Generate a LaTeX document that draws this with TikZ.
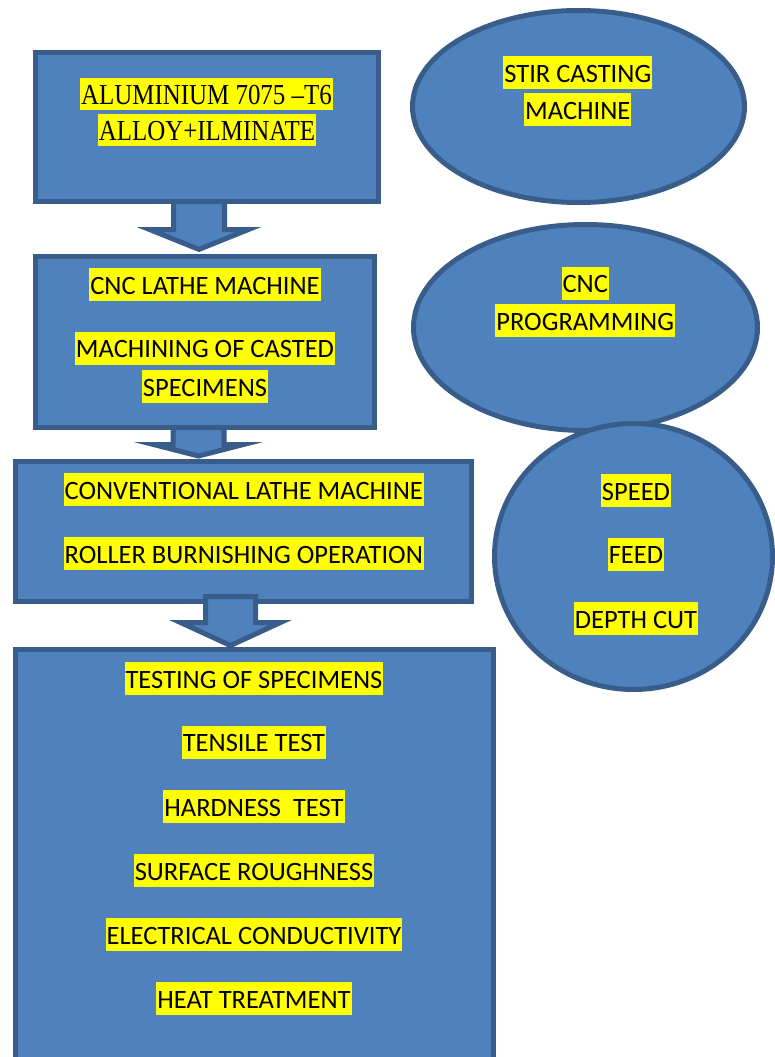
\documentclass[tikz,border=0pt]{standalone}
\usepackage{fontspec}
\usetikzlibrary{shapes.geometric}
\newfontfamily\carl{Carlito}
\newfontfamily\serifc[FakeStretch=0.86]{Liberation Serif}
\definecolor{boxfill}{HTML}{4F81BD}
\definecolor{boxline}{HTML}{385D8A}
\definecolor{hlyellow}{HTML}{FFFF00}
\newcommand\blockarrow[7]{% #1 x, #2 top, #3 wing y, #4 tip y, #5 shaft half, #6 head half, #7 name
  \coordinate (#7) at (#1,#2);
  \draw[barrow] (#7) ++(-#5,0) -- (#1-#5,#3) -- (#1-#6,#3) -- (#1,#4) -- (#1+#6,#3) -- (#1+#5,#3) -- (#1+#5,#2) -- cycle;}
\tikzset{
  flowbox/.style={draw=boxline, fill=boxfill, line width=5pt, rectangle, inner sep=0pt, outer sep=0pt},
  oval/.style={draw=boxline, fill=boxfill, line width=5pt, ellipse, inner sep=0pt, outer sep=0pt},
  barrow/.style={draw=boxline, fill=boxfill, line width=5pt, line join=miter, miter limit=20},
  hl/.style={fill=hlyellow, inner xsep=1pt, inner ysep=0pt, text height=26pt, text depth=7pt, anchor=base, font=\carl\fontsize{26.5}{32}\selectfont},
  hls/.style={hl, font=\serifc\fontsize{29}{32}\selectfont, text height=26pt, text depth=6pt}
}
\begin{document}
\begin{tikzpicture}[x=1pt,y=1pt]
\useasboundingbox (0,0) rectangle (775,-1057);
\clip (0,0) rectangle (775,-1057);
% boxes
\node[flowbox, minimum width=343pt, minimum height=149pt] (b1) at (207,-127) {};
\node[flowbox, minimum width=339pt, minimum height=171pt] (b2) at (205,-342) {};
\node[flowbox, minimum width=456pt, minimum height=140pt] (b3) at (243.5,-531.5) {};
\node[flowbox, minimum width=478pt, minimum height=450pt] (b4) at (254.5,-874.5) {};
% ovals
\node[oval, minimum width=332pt, minimum height=192pt] (e1) at (578.5,-106.5) {};
\node[oval, minimum width=344pt, minimum height=206pt] (e2) at (585.5,-327.5) {};
\node[oval, minimum width=278pt, minimum height=266pt] (e3) at (633.5,-556.5) {};
% block arrows
\blockarrow{199}{-201.5}{-229.5}{-249.4}{25.5}{49.5}{a1}
\blockarrow{198.5}{-427.5}{-444.5}{-456}{25.5}{45}{a2}
\blockarrow{230.5}{-596.5}{-622.5}{-645.5}{25}{50}{a3}
% texts box 1
\node[hls] (t11) at (206.5,-104) {ALUMINIUM 7075 –T6};
\node[hls] (t12) at (207,-140) {ALLOY+ILMINATE};
% box 2
\node[hl] (t21) at (205,-294) {CNC LATHE MACHINE};
\node[hl] (t22) at (205,-357.5) {MACHINING OF CASTED};
\node[hl] (t23) at (205,-396) {SPECIMENS};
% box 3
\node[hl] (t31) at (243.8,-499) {CONVENTIONAL LATHE MACHINE};
\node[hl] (t32) at (243.8,-563) {ROLLER BURNISHING OPERATION};
% box 4
\node[hl] (t41) at (254,-688) {TESTING OF SPECIMENS};
\node[hl] (t42) at (254,-751.5) {TENSILE TEST};
\node[hl] (t43) at (254,-816) {HARDNESS\ \ TEST};
\node[hl] (t44) at (254,-880) {SURFACE ROUGHNESS};
\node[hl] (t45) at (254,-944) {ELECTRICAL CONDUCTIVITY};
\node[hl] (t46) at (254,-1008) {HEAT TREATMENT};
% ovals text
\node[hl] (te11) at (577.8,-82) {STIR CASTING};
\node[hl] (te12) at (577.8,-119) {MACHINE};
\node[hl] (te21) at (585.2,-292.5) {CNC};
\node[hl] (te22) at (585.2,-330) {PROGRAMMING};
\node[hl] (te31) at (636,-500) {SPEED};
\node[hl] (te32) at (636,-563.5) {FEED};
\node[hl] (te33) at (636,-628) {DEPTH CUT};
\end{tikzpicture}
\end{document}
